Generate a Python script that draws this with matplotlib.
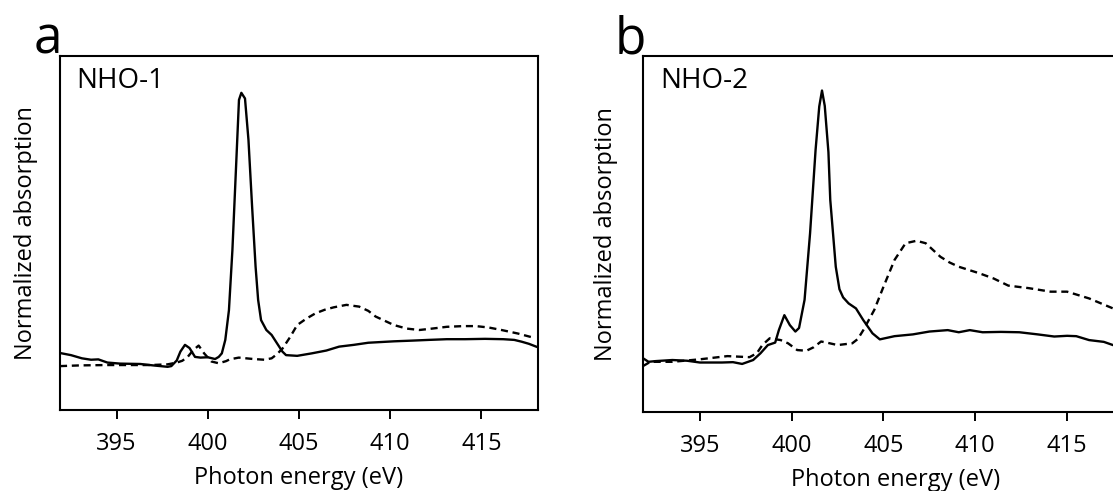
import matplotlib
matplotlib.use("Agg")
import matplotlib.pyplot as plt

plt.rcParams['font.family'] = ['Open Sans', 'DejaVu Sans']

# ---------------- data ----------------
energy_a_solid = [392.0, 392.5, 393.1, 393.6, 394.0, 394.5, 395.2, 396.3, 397.0, 397.8, 398.0, 398.3,
                  398.5, 398.75, 399.0, 399.3, 399.6, 400.0, 400.4, 400.6, 400.77, 400.96, 401.16,
                  401.35, 401.55, 401.71, 401.84, 402.04, 402.23, 402.43, 402.62, 402.76, 402.92,
                  403.21, 403.5, 403.8, 404.09, 404.29, 404.9, 405.7, 406.5, 407.2, 408.0, 408.8,
                  409.5, 410.2, 411.2, 412.1, 413.1, 414.1, 415.2, 416.2, 416.8, 417.2, 417.6, 418.0]
absorb_a_solid = [0.160, 0.155, 0.146, 0.142, 0.143, 0.134, 0.131, 0.130, 0.126, 0.122, 0.124, 0.140,
                  0.165, 0.184, 0.175, 0.150, 0.148, 0.149, 0.144, 0.150, 0.160, 0.198, 0.282,
                  0.452, 0.687, 0.876, 0.896, 0.880, 0.763, 0.574, 0.405, 0.311, 0.254,
                  0.226, 0.212, 0.188, 0.165, 0.155, 0.153, 0.160, 0.168, 0.179, 0.184, 0.190,
                  0.192, 0.194, 0.196, 0.198, 0.200, 0.200, 0.201, 0.200, 0.198, 0.193, 0.187, 0.179]

energy_a_dash = [391.9, 393.0, 394.5, 396.0, 396.9, 397.8, 398.3, 398.6, 398.9, 399.2, 399.5, 399.8,
                 400.2, 400.6, 401.0, 401.2, 401.7, 402.5, 403.1, 403.5, 403.8, 404.1, 404.5, 404.9,
                 405.4, 405.9, 406.4, 406.9, 407.6, 408.3, 408.8, 409.2, 409.7, 410.2, 410.9, 411.6,
                 412.3, 413.1, 414.0, 414.7, 415.4, 416.1, 417.0, 417.8]
absorb_a_dash = [0.124, 0.126, 0.127, 0.127, 0.127, 0.129, 0.134, 0.139, 0.150, 0.169, 0.182, 0.160,
                 0.137, 0.132, 0.138, 0.143, 0.148, 0.144, 0.142, 0.146, 0.158, 0.174, 0.205, 0.240,
                 0.258, 0.273, 0.283, 0.290, 0.297, 0.292, 0.280, 0.264, 0.252, 0.240, 0.230, 0.226,
                 0.230, 0.235, 0.237, 0.237, 0.233, 0.226, 0.216, 0.205]

energy_b_solid = [391.9, 392.2, 392.6, 393.5, 394.3, 395.0, 396.2, 396.8, 397.3, 397.9, 398.3, 398.7,
                  399.1, 399.3, 399.6, 399.9, 400.2, 400.4, 400.7, 401.0, 401.3, 401.5, 401.65,
                  401.8, 402.0, 402.1, 402.4, 402.6, 402.8, 403.1, 403.5, 403.9, 404.4, 404.8,
                  405.6, 406.6, 407.5, 408.5, 409.1, 409.7, 410.4, 411.4, 412.4, 413.4, 414.3,
                  415.0, 415.5, 416.2, 417.0, 417.5, 418.1]
absorb_b_solid = [0.151, 0.141, 0.143, 0.146, 0.144, 0.139, 0.139, 0.140, 0.135, 0.146, 0.165, 0.188,
                  0.195, 0.230, 0.272, 0.244, 0.226, 0.236, 0.315, 0.502, 0.736, 0.858, 0.903,
                  0.860, 0.730, 0.596, 0.408, 0.345, 0.322, 0.305, 0.291, 0.258, 0.221, 0.204,
                  0.213, 0.218, 0.226, 0.230, 0.224, 0.230, 0.224, 0.225, 0.224, 0.218, 0.212,
                  0.214, 0.213, 0.202, 0.197, 0.188, 0.180]

energy_b_dash = [391.9, 392.3, 393.5, 395.0, 396.5, 397.7, 398.1, 398.4, 398.8, 399.4, 399.8, 400.3,
                 400.8, 401.2, 401.6, 401.9, 402.5, 403.3, 403.6, 403.9, 404.5, 405.0, 405.6, 406.2,
                 406.8, 407.3, 407.7, 408.1, 408.6, 409.1, 410.2, 411.0, 411.8, 412.9, 414.1, 415.0,
                 416.2, 417.5, 418.1]
absorb_b_dash = [0.129, 0.141, 0.141, 0.148, 0.157, 0.154, 0.165, 0.188, 0.207, 0.202, 0.193, 0.174,
                 0.172, 0.182, 0.198, 0.195, 0.188, 0.193, 0.205, 0.230, 0.287, 0.352, 0.427, 0.474,
                 0.481, 0.474, 0.455, 0.436, 0.420, 0.408, 0.390, 0.375, 0.355, 0.348, 0.338, 0.338,
                 0.319, 0.291, 0.280]

x_ticks = [395, 400, 405, 410, 415]
panel_letters = ['a', 'b']
sample_names = ['NHO-1', 'NHO-2']
x_label = 'Photon energy (eV)'
y_label = 'Normalized absorption'

# ---------------- figure ----------------
W, H = 1113, 491
fig = plt.figure(figsize=(W / 100, H / 100), dpi=100)

def px_axes(left, top, right, bottom):
    return [left / W, 1 - bottom / H, (right - left) / W, (bottom - top) / H]

ax_a = fig.add_axes(px_axes(60, 56, 538, 410))
ax_b = fig.add_axes(px_axes(643, 56, 1124, 412))

panels = [
    (ax_a, energy_a_solid, absorb_a_solid, energy_a_dash, absorb_a_dash, 0.5, -22),
    (ax_b, energy_b_solid, absorb_b_solid, energy_b_dash, absorb_b_dash, 0.526, -25),
]

for i, (ax, xs, ys, xd, yd, xlab_pos, ylab_off) in enumerate(panels):
    ax.plot(xs, ys, color='black', lw=1.7, solid_joinstyle='round')
    ax.plot(xd, yd, color='black', lw=1.7, linestyle=(0, (3, 2)))
    ax.set_xlim(391.9, 418.1)
    ax.set_ylim(0, 1)
    ax.set_xticks(x_ticks)
    ax.set_yticks([])
    ax.tick_params(axis='x', direction='out', length=6.5, width=1.4,
                   labelsize=17, pad=9, colors='black')
    for s in ax.spines.values():
        s.set_linewidth(1.5)
        s.set_color('black')
    ax.set_xlabel(x_label, fontsize=17)
    ax.xaxis.set_label_coords(xlab_pos, -0.158)
    ax.set_ylabel(y_label, fontsize=17)
    bb = ax.get_position()
    ax.yaxis.set_label_coords(ylab_off / (bb.width * W), 0.5)
    ax.text(0.035, 0.97, sample_names[i], transform=ax.transAxes,
            fontsize=20, va='top', ha='left')

fig.text(34 / W, 1 - 53 / H, panel_letters[0], fontsize=37, ha='left', va='baseline')
fig.text(615 / W, 1 - 53 / H, panel_letters[1], fontsize=37, ha='left', va='baseline')

fig.savefig('out.png', dpi=100)
